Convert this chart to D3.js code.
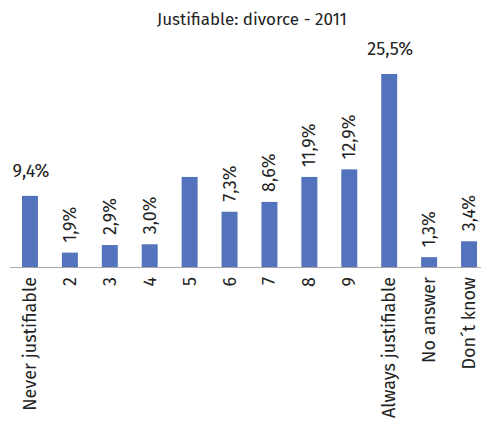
<!DOCTYPE html>
<html>
<head>
<meta charset="utf-8">
<script src="https://cdn.jsdelivr.net/npm/d3@7"></script>
<style>
  body { margin: 0; background: #fff; }
  text { font-family: "Fira Sans", "Noto Sans", sans-serif; fill: #222; }
</style>
</head>
<body>
<div id="chart"></div>
<script>
const width = 489, height = 424;

// categories and values (percent)
const categories = ["Never justifiable", "2", "3", "4", "5", "6", "7", "8", "9",
    "Always justifiable", "No answer", "Don´t know"];
const values = [9.4, 1.9, 2.9, 3.0, 11.9, 7.3, 8.6, 11.9, 12.9, 25.5, 1.3, 3.4];
// value labels as shown (bar "5" has none)
const labels = ["9,4%", "1,9%", "2,9%", "3,0%", null, "7,3%", "8,6%", "11,9%", "12,9%",
    "25,5%", "1,3%", "3,4%"];
// which labels sit horizontally above the bar
const flat = [true, false, false, false, false, false, false, false, false, true, false, false];

const baseY = 267;

let svg = d3.select('#chart')
    .append('svg')
      .attr('width', width)
      .attr('height', height);

const x = d3.scaleBand()
    .domain(categories)
    .range([10, 489])
    .paddingInner(0.6)
    .paddingOuter(0.3);

const y = d3.scaleLinear()
    .domain([0, 25.5])
    .range([baseY, 74]);

svg.append('text')
    .attr('x', 252)
    .attr('y', 25)
    .attr('text-anchor', 'middle')
    .attr('font-size', 17)
    .text('Justifiable: divorce - 2011');

svg.selectAll('rect.bar')
    .data(values)
    .enter()
    .append('rect')
      .attr('class', 'bar')
      .attr('x', (d, i) => x(categories[i]))
      .attr('width', x.bandwidth())
      .attr('y', d => y(d))
      .attr('height', d => baseY - y(d))
      .attr('fill', '#5473bd');

// baseline
svg.append('line')
    .attr('x1', 10).attr('x2', 481)
    .attr('y1', baseY + 0.5).attr('y2', baseY + 0.5)
    .attr('stroke', '#a6a6a6');

// value labels
values.forEach((v, i) => {
    if (!labels[i]) return;
    const cx = x(categories[i]) + x.bandwidth() / 2;
    if (flat[i]) {
        svg.append('text')
            .attr('x', cx + 1)
            .attr('y', y(v) - 19)
            .attr('text-anchor', 'middle')
            .attr('font-size', 18)
            .text(labels[i]);
    } else {
        svg.append('text')
            .attr('transform', `translate(${cx + 6},${y(v) - 10}) rotate(-90)`)
            .attr('text-anchor', 'start')
            .attr('font-size', 18)
            .text(labels[i]);
    }
});

// category labels
categories.forEach(c => {
    const cx = x(c) + x.bandwidth() / 2;
    svg.append('text')
        .attr('transform', `translate(${cx + 6},${baseY + 10}) rotate(-90)`)
        .attr('text-anchor', 'end')
        .attr('font-size', 18)
        .text(c);
});
</script>
</body>
</html>
